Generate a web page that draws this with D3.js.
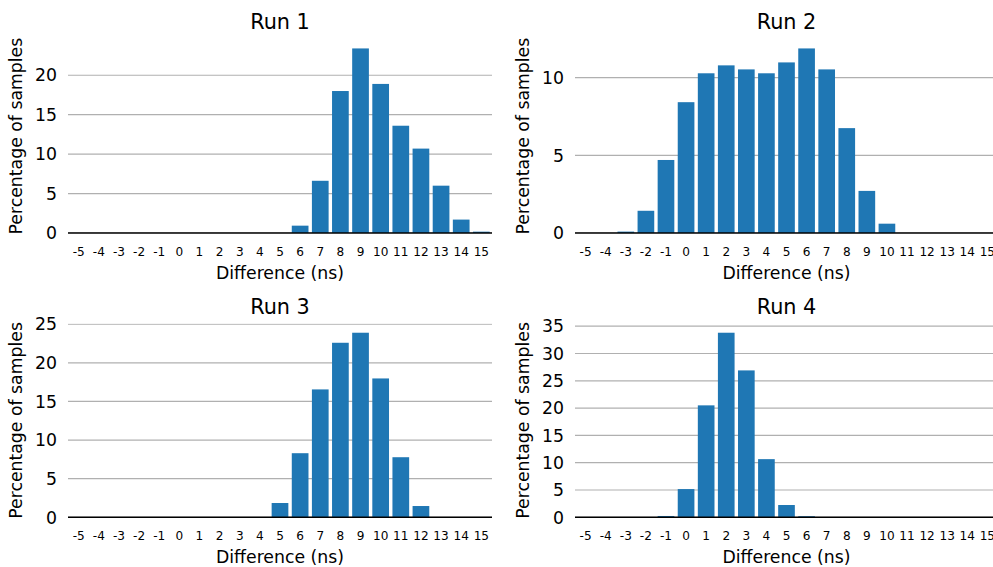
<!DOCTYPE html>
<html>
<head>
<meta charset="utf-8">
<script src="https://cdn.jsdelivr.net/npm/d3@7"></script>
<style>
  body { margin: 0; background: #fff; }
  svg { display: block; font-family: "DejaVu Sans", sans-serif; }
</style>
</head>
<body>
<div id="chart"></div>
<script>
// difference bins (ns)
const categories = [-5, -4, -3, -2, -1, 0, 1, 2, 3, 4, 5, 6, 7, 8, 9, 10, 11, 12, 13, 14, 15];

// percentage of samples per bin
const run1 = [0, 0, 0, 0, 0, 0, 0, 0, 0, 0, 0, 0.93, 6.62, 18.0, 23.4, 18.9, 13.6, 10.7, 6.0, 1.7, 0.17];
const run2 = [0, 0, 0.09, 1.43, 4.7, 8.42, 10.28, 10.79, 10.53, 10.28, 10.98, 11.88, 10.53, 6.75, 2.71, 0.6, 0, 0, 0, 0, 0];
const run3 = [0, 0, 0, 0, 0, 0, 0, 0, 0, 0, 1.85, 8.3, 16.56, 22.6, 23.9, 17.98, 7.78, 1.46, 0, 0, 0];
const run4 = [0, 0, 0, 0, 0.24, 5.17, 20.5, 33.8, 26.9, 10.65, 2.25, 0.2, 0, 0, 0, 0, 0, 0, 0, 0, 0];

const yTicks1 = [0, 5, 10, 15, 20];
const yTicks2 = [0, 5, 10];
const yTicks3 = [0, 5, 10, 15, 20, 25];
const yTicks4 = [0, 5, 10, 15, 20, 25, 30, 35];

const titles = ["Run 1", "Run 2", "Run 3", "Run 4"];

const width = 993, height = 567;
const barColor = "#1f77b4";

const svg = d3.select("#chart").append("svg")
    .attr("width", width)
    .attr("height", height)
    .attr("viewBox", "0 0 " + width + " " + height);

// axes boxes: left, right, top, bottom
const panels = [
  { box: [68, 492, 39.2, 233],    values: run1, ticks: yTicks1, title: titles[0] },
  { box: [575, 998, 39.2, 233],   values: run2, ticks: yTicks2, title: titles[1] },
  { box: [68, 492, 323.5, 517.3], values: run3, ticks: yTicks3, title: titles[2] },
  { box: [575, 998, 323.5, 517.3], values: run4, ticks: yTicks4, title: titles[3] }
];

panels.forEach(function (p, i) {
  const [left, right, top, bottom] = p.box;

  const x = d3.scaleBand()
      .domain(categories)
      .range([left, right])
      .paddingInner(0.17)
      .paddingOuter(0.115);

  const y = d3.scaleLinear()
      .domain([0, d3.max(p.values) * 1.05])
      .range([bottom, top]);

  const g = svg.append("g").attr("class", "panel");

  svg.append("clipPath")
      .attr("id", "clip" + i)
      .append("rect")
      .attr("x", left)
      .attr("y", top)
      .attr("width", right - left)
      .attr("height", bottom - top);

  // grid lines (behind bars)
  g.append("g")
      .attr("clip-path", "url(#clip" + i + ")")
      .selectAll("line")
      .data(p.ticks)
      .enter().append("line")
      .attr("x1", left)
      .attr("x2", right)
      .attr("y1", d => y(d))
      .attr("y2", d => y(d))
      .attr("stroke", "#b0b0b0")
      .attr("stroke-width", 1.2);

  // bars
  g.append("g")
      .selectAll("rect")
      .data(p.values)
      .enter().append("rect")
      .attr("x", (d, j) => x(categories[j]))
      .attr("width", x.bandwidth())
      .attr("y", d => y(d))
      .attr("height", d => bottom - y(d))
      .attr("fill", barColor);

  // bottom spine
  g.append("line")
      .attr("x1", left)
      .attr("x2", right)
      .attr("y1", bottom)
      .attr("y2", bottom)
      .attr("stroke", "#000")
      .attr("stroke-width", 1.4);

  // y tick labels
  g.append("g")
      .selectAll("text")
      .data(p.ticks)
      .enter().append("text")
      .attr("x", left - 11)
      .attr("y", d => y(d))
      .attr("dy", "0.36em")
      .attr("text-anchor", "end")
      .attr("font-size", "17.3px")
      .text(d => d);

  // x tick labels
  g.append("g")
      .selectAll("text")
      .data(categories)
      .enter().append("text")
      .attr("x", d => x(d) + x.bandwidth() / 2)
      .attr("y", bottom + 23)
      .attr("text-anchor", "middle")
      .attr("font-size", "12.1px")
      .text(d => d);

  // axis labels
  g.append("text")
      .attr("x", (left + right) / 2)
      .attr("y", bottom + 46)
      .attr("text-anchor", "middle")
      .attr("font-size", "17.3px")
      .text("Difference (ns)");

  g.append("text")
      .attr("transform", "translate(" + (left - 46) + "," + ((top + bottom) / 2) + ") rotate(-90)")
      .attr("text-anchor", "middle")
      .attr("font-size", "17.3px")
      .text("Percentage of samples");

  // title
  g.append("text")
      .attr("x", (left + right) / 2)
      .attr("y", top - 10)
      .attr("text-anchor", "middle")
      .attr("font-size", "20.8px")
      .text(p.title);
});
</script>
</body>
</html>
